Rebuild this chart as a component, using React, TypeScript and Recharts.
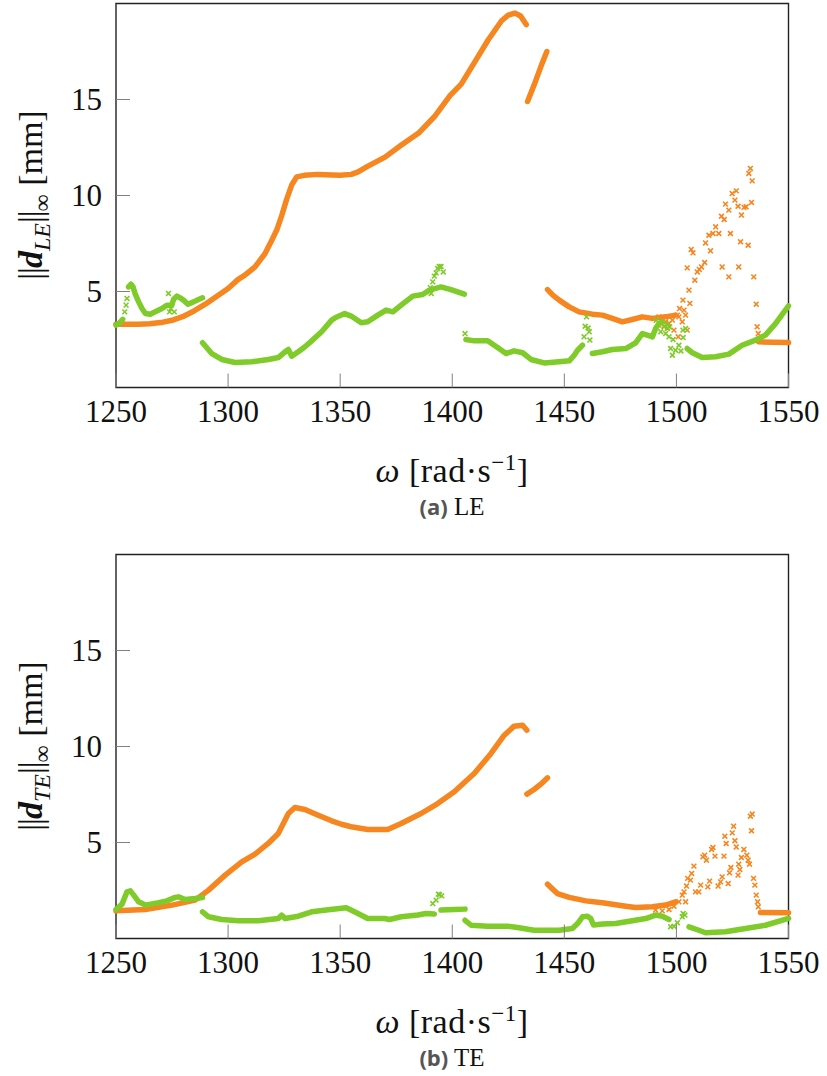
import { ScatterChart, Scatter, XAxis, YAxis, ReferenceArea } from "recharts";

type Pt = [number, number];

const X_TICKS = [1250, 1300, 1350, 1400, 1450, 1500, 1550];
const Y_TICKS = [5, 10, 15];

const ORANGE = "#f6861f";
const GREEN = "#7ecb2a";
const SERIF = "'Liberation Serif', 'DejaVu Serif', serif";

// (a) LE -- orange
const leOrangeA: Pt[] = [
  [1250, 3.3], [1255, 3.3], [1260, 3.3], [1265, 3.32], [1270, 3.38], [1275, 3.5],
  [1280, 3.7], [1285, 4.0], [1290, 4.35], [1295, 4.75], [1300, 5.16], [1304.5, 5.63],
  [1307.5, 5.85], [1312, 6.28], [1316.5, 6.98], [1319.5, 7.67], [1321.7, 8.2], [1324, 8.98],
  [1326, 9.76], [1328.4, 10.55], [1330.6, 10.97], [1334, 11.05], [1340, 11.1], [1350, 11.05],
  [1355, 11.1], [1358, 11.23], [1362, 11.5], [1366, 11.75], [1370, 12.0], [1377, 12.6],
  [1385, 13.25], [1392, 14.1], [1399, 15.2], [1404, 15.8], [1410, 16.95], [1416, 18.1],
  [1422, 19.1], [1425, 19.4], [1428, 19.5], [1430.5, 19.35], [1433, 18.9],
];
const leOrangeB: Pt[] = [[1433.6, 14.9], [1436.5, 15.75], [1439.5, 16.7], [1442.2, 17.5]];
const leOrangeC: Pt[] = [
  [1442.5, 5.1], [1445, 4.8], [1447.7, 4.55], [1452.2, 4.2], [1456.6, 3.94], [1462.5, 3.82],
  [1467, 3.77], [1471.4, 3.6], [1475.9, 3.42], [1480.3, 3.54], [1484.8, 3.68], [1489.3, 3.6],
  [1495.2, 3.68], [1499.6, 3.77],
];
const leOrangeD: Pt[] = [[1536.7, 2.38], [1543, 2.36], [1550, 2.34]];
const leOrangeDots: Pt[] = [
  [1490, 3.59], [1492.2, 3.68], [1493.7, 3.51], [1495.2, 3.42], [1496.7, 3.33], [1492.2, 3.25],
  [1494.5, 3.16], [1496, 3.07], [1498.2, 3.51], [1498.9, 2.99], [1500.4, 3.77], [1501.1, 3.68],
  [1500.8, 2.64], [1501.4, 4.11], [1502.6, 3.42], [1502.9, 4.55], [1503.4, 4.03], [1504.1, 3.77],
  [1504.8, 2.99], [1505.6, 5.07], [1506, 4.38], [1508.2, 5.59], [1504.8, 6.23], [1506.6, 7.19],
  [1507.4, 7.01], [1509.3, 6.02], [1510.2, 6.15], [1511.2, 6.28], [1512.6, 6.51], [1513, 7.53],
  [1514.5, 7.93], [1515.2, 7.12], [1516.3, 8.02], [1517.5, 8.37], [1518.9, 8.02], [1520.1, 8.92],
  [1521.3, 8.75], [1520.4, 6.28], [1521.9, 9.55], [1523.4, 9.24], [1524.1, 8.02], [1523.4, 5.76],
  [1524.9, 10.1], [1526.1, 9.76], [1526.7, 10.24], [1527.5, 9.44], [1527.8, 6.28], [1528.6, 7.59],
  [1529, 8.98], [1530.2, 9.38], [1531.1, 9.41], [1532, 7.41], [1532.3, 11.15], [1533, 11.41],
  [1533.8, 10.76], [1533.5, 9.64], [1534.5, 5.76], [1535.6, 4.34], [1536, 3.16], [1536.5, 2.81],
];

// (a) LE -- green
const leGreenA: Pt[] = [[1250, 3.25], [1251.5, 3.35], [1253, 3.55]];
const leGreenB: Pt[] = [
  [1255.6, 5.24], [1256.7, 5.38], [1257.6, 5.24], [1258.6, 4.86], [1260.1, 4.46], [1261.6, 4.11],
  [1263.1, 3.85], [1265.3, 3.82], [1267.5, 3.94], [1270.5, 4.11], [1272.7, 4.29], [1274.9, 4.29],
  [1275.7, 4.6], [1277.2, 4.76], [1278.6, 4.67], [1280.1, 4.55], [1282.1, 4.34], [1284.6, 4.46],
  [1286.8, 4.58], [1288.6, 4.67],
];
const leGreenC: Pt[] = [
  [1288.6, 2.33], [1292.7, 1.77], [1297.2, 1.46], [1303.1, 1.3], [1310.6, 1.34], [1318, 1.46],
  [1322.4, 1.56], [1325.4, 1.86], [1326.9, 1.98], [1328.4, 1.63], [1331.3, 1.86], [1334.3, 2.12],
  [1337.3, 2.43], [1341.7, 2.9], [1346.2, 3.51], [1348, 3.65], [1352, 3.85], [1354.9, 3.72],
  [1359.4, 3.37], [1362.3, 3.42], [1366.8, 3.77], [1370.5, 4.03], [1373.5, 3.94], [1377.2, 4.29],
  [1382.4, 4.76], [1386.8, 4.84], [1389.8, 5.07], [1395, 5.24], [1399.4, 5.1], [1405.4, 4.86],
];
const leGreenD: Pt[] = [
  [1406.1, 2.5], [1409.8, 2.43], [1415.8, 2.43], [1420.2, 2.08], [1424, 1.77], [1427.6, 1.91],
  [1431.4, 1.81], [1435.1, 1.46], [1441, 1.28], [1447.7, 1.34], [1452.2, 1.39], [1454.4, 1.68],
  [1455.9, 1.94], [1458.1, 2.2],
];
const leGreenE: Pt[] = [
  [1462.5, 1.77], [1467, 1.86], [1471.4, 1.98], [1477.4, 2.03], [1481.8, 2.33], [1484.8, 2.81],
  [1487, 2.73], [1489.3, 2.64], [1490.7, 3.07], [1492.2, 3.33], [1493.7, 3.42],
];
const leGreenF: Pt[] = [
  [1504.8, 2.03], [1507.1, 1.81], [1511.5, 1.56], [1517.5, 1.6], [1523.4, 1.74], [1529.3, 2.2],
  [1535.3, 2.47], [1539.7, 2.73], [1544.2, 3.33], [1550, 4.25],
];
const leGreenDots: Pt[] = [
  [1253.9, 3.94], [1254.5, 4.29], [1254.9, 4.64], [1273.4, 4.9], [1273.9, 3.94], [1276, 3.94],
  [1274.5, 4.1], [1390.6, 4.9], [1391.3, 5.5], [1392, 5.8], [1392.8, 5.97], [1393.5, 6.2],
  [1394.2, 6.3], [1395, 6.3], [1396, 6.02], [1390.2, 5.2], [1405.7, 2.81], [1458.8, 2.64],
  [1459.3, 3.19], [1459.9, 3.68], [1460.6, 3.1], [1461.1, 2.9], [1461.4, 2.47], [1495.2, 2.81],
  [1496.7, 2.64], [1497.4, 2.03], [1498.2, 1.68], [1499.6, 1.94], [1501.1, 2.2], [1502.9, 2.99],
  [1504.1, 3.07], [1491, 3.5], [1494.5, 3.2], [1496, 3.1], [1497, 3.15], [1498.5, 2.5],
  [1503, 2.6], [1502, 1.9], [1493, 2.9], [1495.8, 3.3],
];

// (b) TE -- orange
const teOrangeA: Pt[] = [
  [1250, 1.44], [1263, 1.51], [1275, 1.74], [1285.3, 2.0], [1291.3, 2.52], [1298.7, 3.3],
  [1306.1, 3.99], [1312, 4.39], [1317.9, 4.95], [1322.4, 5.47], [1326.9, 6.51], [1329.8, 6.82],
  [1334.3, 6.72], [1340.2, 6.42], [1346.2, 6.13], [1350.6, 5.95], [1354.9, 5.82], [1362.3, 5.68],
  [1371.2, 5.68], [1377.2, 5.99], [1386.1, 6.51], [1393.5, 7.03], [1400.9, 7.64], [1409.8, 8.59],
  [1417.3, 9.64], [1423.2, 10.59], [1427.6, 11.06], [1431.4, 11.11], [1433.3, 10.85],
];
const teOrangeB: Pt[] = [[1433.3, 7.52], [1436.5, 7.76], [1439.5, 8.04], [1442.5, 8.37]];
const teOrangeC: Pt[] = [
  [1442.5, 2.83], [1446.9, 2.34], [1452.2, 2.14], [1459.6, 1.96], [1467, 1.86], [1477.4, 1.68],
  [1481.8, 1.61], [1489.3, 1.65], [1495.2, 1.74], [1499.6, 1.91],
];
const teOrangeD: Pt[] = [[1537.5, 1.35], [1550, 1.34]];
const teOrangeDots: Pt[] = [
  [1490.7, 1.48], [1493.7, 1.44], [1496.7, 1.51], [1498.9, 1.68], [1501.1, 1.91], [1502.6, 2.26],
  [1503.4, 2.43], [1504.1, 1.91], [1504.5, 2.73], [1505, 3.13], [1506.3, 3.04], [1506.8, 3.39],
  [1507.8, 3.77], [1508.5, 2.43], [1510, 2.43], [1510.8, 2.78], [1511.8, 4.25], [1512.6, 4.34],
  [1513.4, 4.08], [1514, 2.69], [1514.8, 2.99], [1515.7, 4.64], [1516.3, 4.74], [1517.2, 4.29],
  [1518.6, 2.73], [1519.7, 2.95], [1520.4, 3.21], [1521.2, 4.29], [1521.6, 5.33], [1522.2, 4.95],
  [1523.1, 2.86], [1523.7, 3.42], [1524.3, 3.7], [1524.9, 5.5], [1525.5, 5.85], [1526.1, 5.09],
  [1526.7, 4.77], [1527.5, 3.3], [1527.8, 3.87], [1528.3, 3.59], [1529, 4.22], [1530.1, 4.64],
  [1531.4, 4.34], [1532, 4.08], [1532.6, 3.87], [1533, 6.37], [1533.8, 6.48], [1533.5, 5.61],
  [1534.4, 3.13], [1535, 2.78], [1535.6, 2.26], [1536.2, 1.91], [1536.5, 1.65],
];

// (b) TE -- green
const teGreenA: Pt[] = [
  [1250, 1.51], [1252.7, 1.79], [1254.9, 2.43], [1256.4, 2.48], [1257.9, 2.26], [1260.1, 1.91],
  [1263.1, 1.74], [1269, 1.86], [1272.7, 1.96], [1276.4, 2.14], [1277.9, 2.17], [1280.9, 2.03],
  [1285.3, 2.08], [1288.6, 2.14],
];
const teGreenB: Pt[] = [
  [1288.6, 1.39], [1291.3, 1.13], [1297.2, 0.99], [1304.6, 0.92], [1313.5, 0.92], [1322.4, 1.04],
  [1323.9, 1.22], [1325.4, 1.04], [1331.3, 1.16], [1337.3, 1.39], [1344.7, 1.5], [1352.7, 1.6],
  [1356.4, 1.39], [1362.3, 1.04], [1369.8, 1.04], [1372, 0.99], [1377.2, 1.13], [1384.6, 1.22],
  [1388.3, 1.3], [1392, 1.27],
];
const teGreenC: Pt[] = [[1395, 1.48], [1400.9, 1.51], [1405.7, 1.53]];
const teGreenD: Pt[] = [
  [1405.7, 0.95], [1408.4, 0.69], [1415.8, 0.64], [1424.7, 0.64], [1429.1, 0.57], [1436.5, 0.43],
  [1447.7, 0.43], [1453.6, 0.52], [1455.9, 0.78], [1458.1, 1.13], [1460.3, 1.16], [1461.8, 1.04],
  [1463, 0.7], [1467, 0.75], [1472.9, 0.78], [1480.3, 0.92], [1486.3, 1.04], [1490.7, 1.22],
  [1493.7, 1.16], [1496.7, 0.99],
];
const teGreenE: Pt[] = [
  [1505.6, 0.61], [1510, 0.43], [1513, 0.3], [1521.9, 0.35], [1530.8, 0.52], [1539.7, 0.69],
  [1550, 1.05],
];
const teGreenDots: Pt[] = [
  [1391.3, 1.82], [1392.8, 2.0], [1393.8, 2.31], [1395.3, 2.22], [1394.3, 2.28],
  [1497.4, 0.61], [1498.9, 0.64], [1500.4, 0.82], [1502.6, 1.13], [1503.8, 1.22], [1503, 1.3],
];

const toPts = (arr: Pt[]) => arr.map(([x, y]) => ({ x, y }));

function cross(color: string) {
  return (p: any) => {
    const { cx, cy } = p;
    if (cx == null || cy == null) return <g />;
    const r = 2.4;
    return (
      <path
        d={`M${cx - r},${cy - r}L${cx + r},${cy + r}M${cx - r},${cy + r}L${cx + r},${cy - r}`}
        stroke={color}
        strokeWidth={1.6}
        fill="none"
      />
    );
  };
}

const noDot = () => <g />;

// ticks point inwards, pgfplots style
function XTick(props: any) {
  const { x, y, payload } = props;
  return (
    <g>
      <line x1={x} y1={y} x2={x} y2={y - 14} stroke="#808080" strokeWidth={1} />
      <text x={x} y={y + 34} textAnchor="middle" fontFamily={SERIF} fontSize={31} fill="#111">
        {payload.value}
      </text>
    </g>
  );
}

function YTick(props: any) {
  const { x, y, payload } = props;
  return (
    <g>
      <line x1={x} y1={y} x2={x + 14} y2={y} stroke="#808080" strokeWidth={1} />
      <text x={x - 14} y={y + 10.5} textAnchor="end" fontFamily={SERIF} fontSize={31} fill="#111">
        {payload.value}
      </text>
    </g>
  );
}

interface PanelProps {
  top: number;
  orangeBands: Pt[][];
  orangeDots: Pt[];
  greenBands: Pt[][];
  greenDots: Pt[];
}

function Panel({ top, orangeBands, orangeDots, greenBands, greenDots }: PanelProps) {
  const band = (color: string) => ({
    stroke: color,
    strokeWidth: 5.5,
    strokeLinecap: "round",
    strokeLinejoin: "round",
    fill: "none",
  });
  return (
    <div style={{ position: "absolute", left: 0, top }}>
      <ScatterChart width={827} height={440} margin={{ top: 3.5, right: 38.5, bottom: 2.5, left: 0 }}>
        <XAxis
          type="number"
          dataKey="x"
          domain={[1250, 1550]}
          ticks={X_TICKS}
          interval={0}
          height={50}
          axisLine={false}
          tickLine={false}
          tickSize={0}
          tickMargin={0}
          tick={(p: any) => <XTick {...p} />}
        />
        <YAxis
          type="number"
          dataKey="y"
          domain={[0, 20]}
          ticks={Y_TICKS}
          interval={0}
          width={116}
          axisLine={false}
          tickLine={false}
          tickSize={0}
          tickMargin={0}
          tick={(p: any) => <YTick {...p} />}
        />
        {orangeBands.map((b, i) => (
          <Scatter key={`o${i}`} data={toPts(b)} shape={noDot} line={band(ORANGE)} isAnimationActive={false} />
        ))}
        <Scatter data={toPts(orangeDots)} shape={cross(ORANGE)} isAnimationActive={false} />
        {greenBands.map((b, i) => (
          <Scatter key={`g${i}`} data={toPts(b)} shape={noDot} line={band(GREEN)} isAnimationActive={false} />
        ))}
        <Scatter data={toPts(greenDots)} shape={cross(GREEN)} isAnimationActive={false} />
        <ReferenceArea x1={1250} x2={1550} y1={0} y2={20} fill="none" stroke="#222" strokeWidth={1.4} />
      </ScatterChart>
    </div>
  );
}

function YLabel({ cy, sub }: { cy: number; sub: string }) {
  return (
    <div
      style={{
        position: "absolute",
        left: 31 - 150,
        top: cy - 20,
        width: 300,
        height: 40,
        lineHeight: "40px",
        textAlign: "center",
        transform: "rotate(-90deg)",
        fontFamily: SERIF,
        fontSize: 34,
        color: "#111",
        whiteSpace: "nowrap",
      }}
    >
      <span style={{ letterSpacing: -1 }}>||</span>
      <b><i>d</i></b>
      <sub style={{ fontSize: 24, fontStyle: "italic" }}>{sub}</sub>
      <span style={{ letterSpacing: -1 }}>||</span>
      <sub style={{ fontSize: 24 }}>∞</sub> [mm]
    </div>
  );
}

function XLabel({ cy }: { cy: number }) {
  return (
    <div
      style={{
        position: "absolute",
        left: 452 - 200,
        top: cy - 20,
        width: 400,
        height: 40,
        lineHeight: "40px",
        textAlign: "center",
        fontFamily: SERIF,
        fontSize: 34,
        color: "#111",
        whiteSpace: "nowrap",
        letterSpacing: 0.5,
      }}
    >
      <i>ω</i> [rad·s<sup style={{ fontSize: 23 }}>−1</sup>]
    </div>
  );
}

function Caption({ cy, tag, text }: { cy: number; tag: string; text: string }) {
  return (
    <div
      style={{
        position: "absolute",
        left: 452 - 150,
        top: cy - 16,
        width: 300,
        height: 32,
        lineHeight: "32px",
        textAlign: "center",
        whiteSpace: "nowrap",
      }}
    >
      <span style={{ fontFamily: "'Open Sans', sans-serif", fontWeight: 700, fontSize: 22, color: "#555" }}>
        ({tag})
      </span>
      <span style={{ fontFamily: SERIF, fontSize: 25, color: "#111" }}> {text}</span>
    </div>
  );
}

export default function App() {
  return (
    <div style={{ position: "absolute", left: 0, top: 0, width: 827, height: 1076, background: "#fff" }}>
      <Panel
        top={0}
        orangeBands={[leOrangeA, leOrangeB, leOrangeC, leOrangeD]}
        orangeDots={leOrangeDots}
        greenBands={[leGreenA, leGreenB, leGreenC, leGreenD, leGreenE, leGreenF]}
        greenDots={leGreenDots}
      />
      <YLabel cy={195} sub="LE" />
      <XLabel cy={463} />
      <Caption cy={506} tag="a" text="LE" />
      <Panel
        top={550.5}
        orangeBands={[teOrangeA, teOrangeB, teOrangeC, teOrangeD]}
        orangeDots={teOrangeDots}
        greenBands={[teGreenA, teGreenB, teGreenC, teGreenD, teGreenE]}
        greenDots={teGreenDots}
      />
      <YLabel cy={746} sub="TE" />
      <XLabel cy={1014} />
      <Caption cy={1057} tag="b" text="TE" />
    </div>
  );
}
